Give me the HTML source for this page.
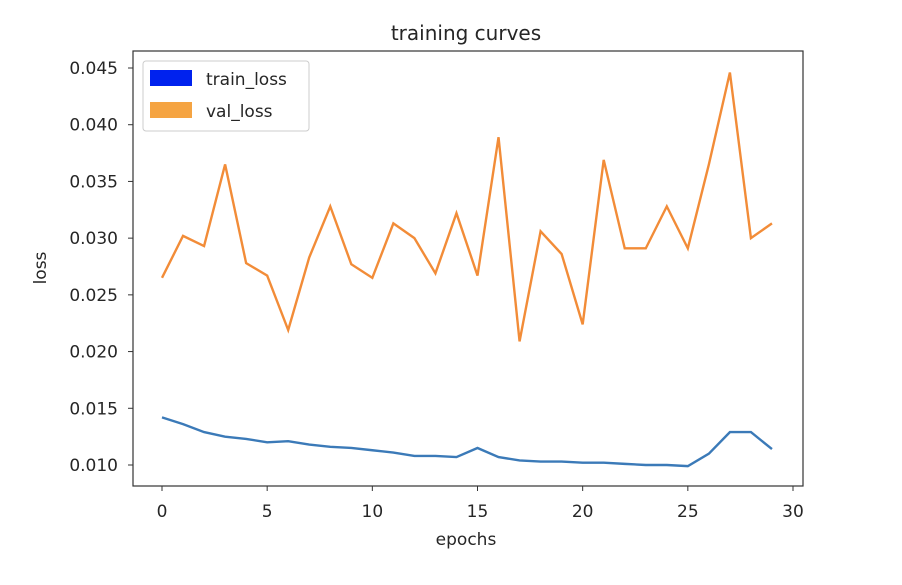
<!DOCTYPE html>
<html><head><meta charset="utf-8"><style>
body{margin:0;background:#fff;}
svg text{font-family:"DejaVu Sans","Liberation Sans",sans-serif;fill:#262626;}
</style></head><body>
<svg id="chart" width="902" height="580" xmlns="http://www.w3.org/2000/svg">
<text x="466" y="40" font-size="20" text-anchor="middle">training curves</text>
<g id="grid"></g>
<polyline id="train" fill="none" stroke="#3b7ab8" stroke-width="2.4"/>
<polyline id="val" fill="none" stroke="#f28c38" stroke-width="2.4"/>
<rect x="133" y="51" width="670" height="435" fill="none" stroke="#333" stroke-width="1.2"/>
<text x="466" y="545" font-size="17" text-anchor="middle">epochs</text>
<text x="0" y="0" font-size="17" text-anchor="middle" transform="translate(46,268) rotate(-90)">loss</text>
<g>
<rect x="143" y="61" width="166" height="70" fill="#fff" stroke="#ccc" rx="3"/>
<rect x="150" y="70" width="42" height="16" fill="#0022ee"/>
<text x="206" y="85" font-size="17">train_loss</text>
<rect x="150" y="102" width="42" height="16" fill="#f5a442"/>
<text x="206" y="117" font-size="17">val_loss</text>
</g>
</svg>
<script>
const epochs=[0,1,2,3,4,5,6,7,8,9,10,11,12,13,14,15,16,17,18,19,20,21,22,23,24,25,26,27,28,29];
const trainLoss=[0.0142,0.0136,0.0129,0.0125,0.0123,0.0120,0.0121,0.0118,0.0116,0.0115,0.0113,0.0111,0.0108,0.0108,0.0107,0.0115,0.0107,0.0104,0.0103,0.0103,0.0102,0.0102,0.0101,0.0100,0.0100,0.0099,0.0110,0.0129,0.0129,0.0114];
const valLoss=[0.0265,0.0302,0.0293,0.0365,0.0278,0.0267,0.0219,0.0283,0.0328,0.0277,0.0265,0.0313,0.0300,0.0269,0.0322,0.0267,0.0389,0.0209,0.0306,0.0286,0.0224,0.0369,0.0291,0.0291,0.0328,0.0291,0.0365,0.0446,0.0300,0.0313];
const xTicks=[0,5,10,15,20,25,30];
const yTicks=[0.010,0.015,0.020,0.025,0.030,0.035,0.040,0.045];
const yTickLabels=["0.010","0.015","0.020","0.025","0.030","0.035","0.040","0.045"];
function sx(v){return 162+v*(793-162)/30;}
function sy(v){return 465-(v-0.010)*(465-68)/0.035;}
const NS="http://www.w3.org/2000/svg";
const g=document.getElementById('grid');
xTicks.forEach(t=>{
 const l=document.createElementNS(NS,'line');
 
 
 l.setAttribute('x1',sx(t));l.setAttribute('x2',sx(t));l.setAttribute('y1',486);l.setAttribute('y2',491);l.setAttribute('stroke','#333');
 g.appendChild(l);
 const tx=document.createElementNS(NS,'text');
 
 
 tx.setAttribute('x',sx(t));tx.setAttribute('y',517);tx.setAttribute('font-size','17');tx.setAttribute('text-anchor','middle');
 tx.textContent=t;g.appendChild(tx);
});
yTicks.forEach((t,i)=>{
 const l=document.createElementNS(NS,'line');
 
 
 l.setAttribute('x1',128);l.setAttribute('x2',133);l.setAttribute('y1',sy(t));l.setAttribute('y2',sy(t));l.setAttribute('stroke','#333');
 g.appendChild(l);
 const tx=document.createElementNS(NS,'text');
 
 
 tx.setAttribute('x',118);tx.setAttribute('y',sy(t)+6);tx.setAttribute('font-size','17');tx.setAttribute('text-anchor','end');
 tx.textContent=yTickLabels[i];g.appendChild(tx);
});
document.getElementById('train').setAttribute('points',epochs.map((e,i)=>sx(e)+','+sy(trainLoss[i])).join(' '));
document.getElementById('val').setAttribute('points',epochs.map((e,i)=>sx(e)+','+sy(valLoss[i])).join(' '));
</script>
</body></html>
